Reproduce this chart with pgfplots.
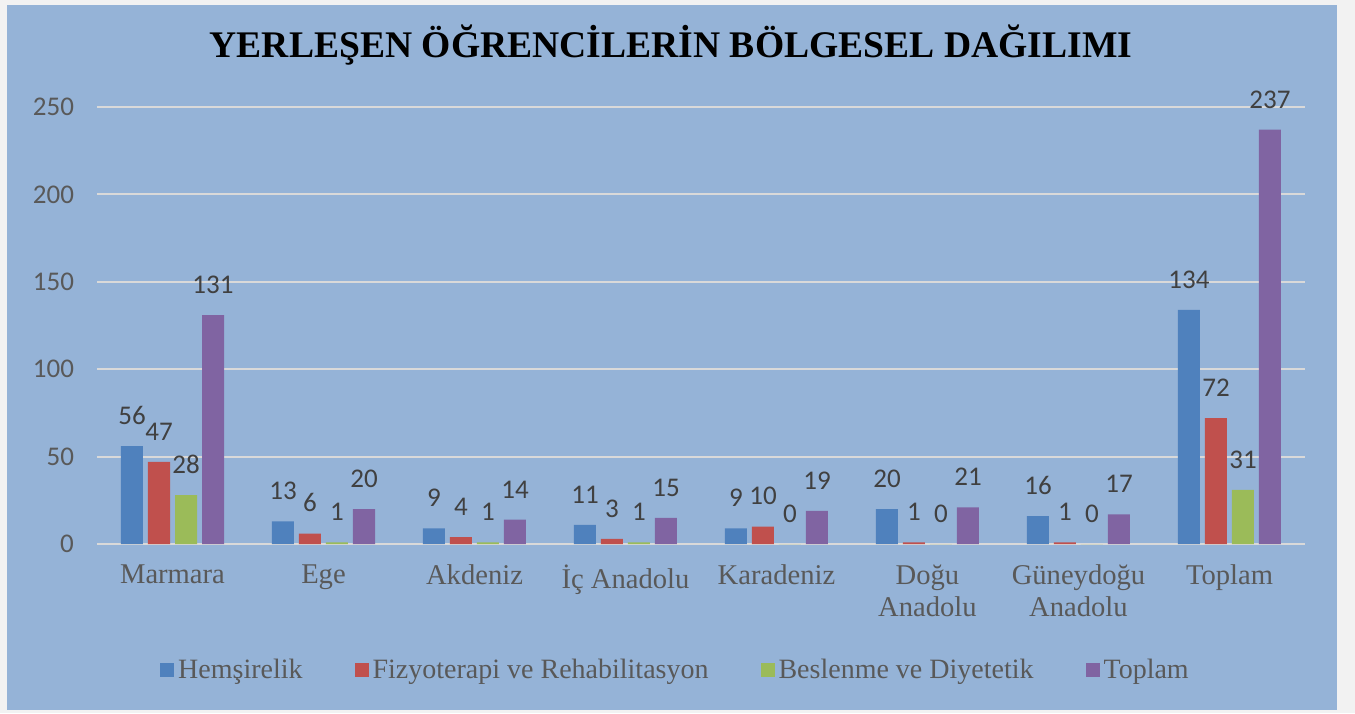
\documentclass[border=0pt]{standalone}
\usepackage{fontspec}
\setmainfont{Liberation Serif}
\newfontfamily\calibri{Carlito}
\usepackage{pgfplots}
\pgfplotsset{compat=1.18}
\definecolor{bgblue}{RGB}{149,179,215}
\definecolor{outer}{RGB}{242,242,242}
\definecolor{gridc}{RGB}{217,217,217}
\definecolor{txtgray}{RGB}{89,89,89}
\definecolor{lblgray}{RGB}{64,64,64}
\definecolor{sblue}{RGB}{79,129,189}
\definecolor{sred}{RGB}{192,80,77}
\definecolor{sgreen}{RGB}{155,187,89}
\definecolor{spurple}{RGB}{128,100,162}

\begin{document}
\begin{tikzpicture}
% page and chart area (1px = 0.5pt)
\fill[outer] (0pt,0pt) rectangle (677.5pt,356.5pt);
\fill[bgblue] (3.5pt,1.5pt) rectangle (668.5pt,354pt);
\node[font=\bfseries\fontsize{18.8}{21}\selectfont, text=black] at (335.5pt,334pt)
  {YERLEŞEN ÖĞRENCİLERİN BÖLGESEL DAĞILIMI};
\begin{axis}[
    at={(48.5pt,84.5pt)}, anchor=south west,
    scale only axis, width=604pt, height=218.5pt,
    ybar=2.5pt, bar width=11pt,
    xmin=-0.5, xmax=7.5, ymin=0, ymax=250,
    xtick=data,
    xticklabels={Marmara, Ege, Akdeniz, İç Anadolu, Karadeniz,
                 {Doğu\\Anadolu}, {Güneydoğu\\Anadolu}, Toplam},
    xticklabel style={font=\fontsize{14.3}{16}\selectfont, text=txtgray,
                      align=center, yshift=-7pt},
    ytick={0,50,...,250},
    yticklabel style={font=\calibri\fontsize{13.5}{16}\selectfont, text=txtgray, xshift=-8pt},
    /pgf/number format/assume math mode=true,
    major tick length=0pt,
    ymajorgrids, grid style={gridc, line width=1pt},
    axis x line*=bottom, axis y line*=left,
    x axis line style={gridc, line width=1pt, -},
    y axis line style={draw=none},
    nodes near coords,
    every node near coord/.append style={font=\calibri\fontsize{13.5}{16}\selectfont,
        text=lblgray, anchor=south, inner sep=0pt, yshift=10.5pt},
    legend columns=4,
    legend style={at={(0.4797,-0.288)}, anchor=center, draw=none, fill=none,
        font=\fontsize{14}{16}\selectfont, text=txtgray,
        /tikz/every even column/.append style={column sep=24pt}},
    legend image code/.code={\fill[#1] (0pt,-3.5pt) rectangle (7pt,3.5pt);},
    clip=false,
]
\addplot[fill=sblue, draw=none] coordinates {(0,56) (1,13) (2,9) (3,11) (4,9) (5,20) (6,16) (7,134)};
\addlegendentry{Hemşirelik}
\addplot[fill=sred, draw=none] coordinates {(0,47) (1,6) (2,4) (3,3) (4,10) (5,1) (6,1) (7,72)};
\addlegendentry{Fizyoterapi ve Rehabilitasyon}
\addplot[fill=sgreen, draw=none] coordinates {(0,28) (1,1) (2,1) (3,1) (4,0) (5,0) (6,0) (7,31)};
\addlegendentry{Beslenme ve Diyetetik}
\addplot[fill=spurple, draw=none] coordinates {(0,131) (1,20) (2,14) (3,15) (4,19) (5,21) (6,17) (7,237)};
\addlegendentry{Toplam}
\end{axis}
\end{tikzpicture}
\end{document}
